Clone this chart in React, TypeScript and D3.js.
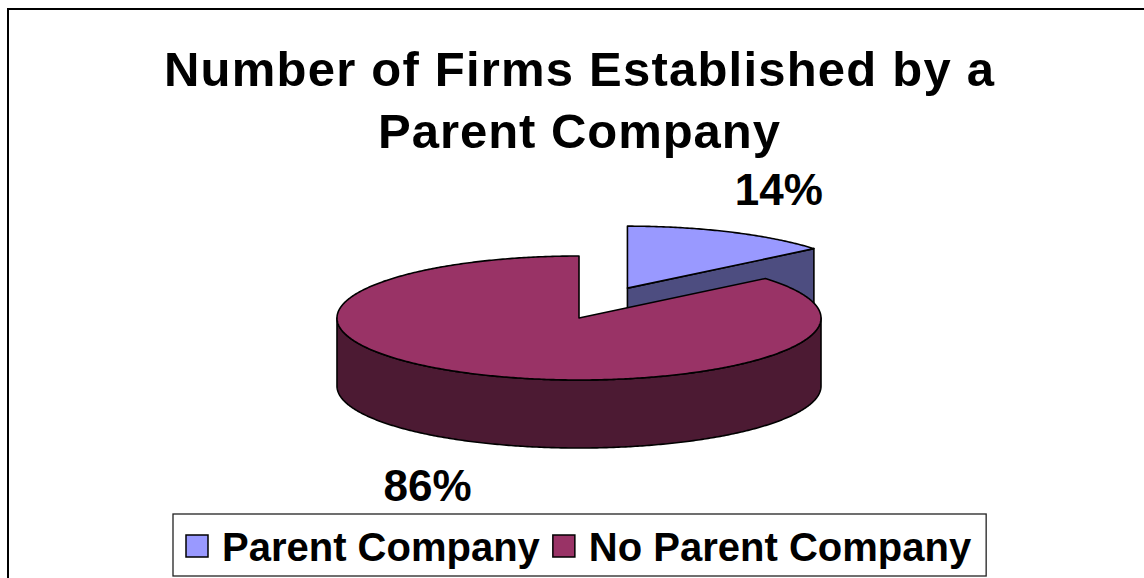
import React, { useEffect, useRef } from 'react';
import * as d3 from 'd3';

const categories = ['Parent Company', 'No Parent Company'];
const shares = [14, 86];
const pctLabels = ['14%', '86%'];
const titleLines = ['Number of Firms Established by a', 'Parent Company'];

const topColors = ['#9999FF', '#993366'];
const sideColors = ['#4D4D80', '#4C1A33'];

const W = 1144;
const H = 578;

export default function App() {
    const ref = useRef<SVGSVGElement>(null);

    useEffect(() => {
        const svg = d3.select(ref.current);
        svg.selectAll('*').remove();

        const font = '"Liberation Sans", Arial, sans-serif';

        // outer chart frame (runs off the right and bottom of the picture)
        svg.append('rect')
            .attr('x', 8).attr('y', 9)
            .attr('width', W).attr('height', H)
            .attr('fill', 'white')
            .attr('stroke', 'black')
            .attr('stroke-width', 2);

        // title
        const titleWidths = [830, 402];
        svg.selectAll('text.title')
            .data(titleLines)
            .enter()
            .append('text')
            .attr('class', 'title')
            .attr('x', 579)
            .attr('y', (d, i) => 86 + i * 62)
            .attr('text-anchor', 'middle')
            .attr('font-family', font)
            .attr('font-weight', 'bold')
            .attr('font-size', 49)
            .attr('textLength', (d, i) => titleWidths[i])
            .attr('lengthAdjust', 'spacing')
            .text(d => d);

        // 3D pie geometry
        const cx = 579, cy = 318;
        const rx = 242, ry = 62, depth = 68;
        const explode = 0.47, explodeTilt = 0.29;

        const pie = d3.pie<number>().sort(null).value(d => d);
        const arcs = pie(shares);

        const pt = (ox: number, oy: number, a: number, z = 0): [number, number] =>
            [ox + rx * Math.sin(a), oy - ry * Math.cos(a) + z];

        const sample = (a0: number, a1: number) => {
            const n = Math.max(2, Math.ceil(Math.abs(a1 - a0) / 0.01));
            return d3.range(n + 1).map(i => a0 + (a1 - a0) * i / n);
        };

        const line = d3.line();

        const slices = arcs.map((d, i) => {
            const mid = (d.startAngle + d.endAngle) / 2;
            const ex = i === 0 ? explode : 0;
            const ox = cx + ex * rx * Math.sin(mid);
            const oy = cy - ex * rx * Math.cos(mid) * explodeTilt;
            return { d, i, mid, ox, oy };
        });

        // draw back to front
        const order = [...slices].sort((a, b) => a.oy - b.oy);
        const g = svg.append('g')
            .attr('stroke', 'black')
            .attr('stroke-width', 1.6)
            .attr('stroke-linejoin', 'round');

        order.forEach(s => {
            const { d, i, ox, oy } = s;
            const a0 = d.startAngle, a1 = d.endAngle;

            // radial cut faces facing the viewer
            const faces: number[] = [];
            if (Math.sin(a1) > 1e-6) faces.push(a1);
            if (Math.sin(a0) < -1e-6) faces.push(a0);
            faces.forEach(a => {
                const p = pt(ox, oy, a);
                g.append('path')
                    .attr('fill', sideColors[i])
                    .attr('d', line([[ox, oy], p, [p[0], p[1] + depth], [ox, oy + depth]]) + 'Z');
            });

            // outer wall on the front half
            const w0 = Math.max(a0, Math.PI / 2), w1 = Math.min(a1, Math.PI * 3 / 2);
            if (w1 > w0) {
                const top = sample(w0, w1).map(a => pt(ox, oy, a));
                const bottom = sample(w0, w1).reverse().map(a => pt(ox, oy, a, depth));
                g.append('path')
                    .attr('fill', sideColors[i])
                    .attr('d', line([...top, ...bottom]) + 'Z');
            }

            // top face
            const rim = sample(a0, a1).map(a => pt(ox, oy, a));
            g.append('path')
                .attr('fill', topColors[i])
                .attr('d', line([[ox, oy], ...rim]) + 'Z');
        });

        // percentage labels
        const lf = 1.47, lg = 1.2;
        svg.selectAll('text.pct')
            .data(slices)
            .enter()
            .append('text')
            .attr('class', 'pct')
            .attr('x', s => s.ox + lf * rx * Math.sin(s.mid))
            .attr('y', s => s.oy - lf * ry * Math.cos(s.mid) * lg + (Math.cos(s.mid) < 0 ? depth : 0))
            .attr('dy', '0.36em')
            .attr('text-anchor', 'middle')
            .attr('font-family', font)
            .attr('font-weight', 'bold')
            .attr('font-size', 44)
            .text(s => pctLabels[s.i]);

        // legend
        const legend = svg.append('g');
        const box = legend.append('rect')
            .attr('x', 173).attr('y', 514)
            .attr('height', 62)
            .attr('fill', 'white')
            .attr('stroke', '#222')
            .attr('stroke-width', 1.3);

        let x = 186;
        categories.forEach((c, i) => {
            legend.append('rect')
                .attr('x', x).attr('y', 535)
                .attr('width', 22).attr('height', 22)
                .attr('fill', topColors[i])
                .attr('stroke', 'black')
                .attr('stroke-width', 1.5);
            const t = legend.append('text')
                .attr('x', x + 36)
                .attr('y', 561)
                .attr('font-family', font)
                .attr('font-weight', 'bold')
                .attr('font-size', 40)
                .text(c);
            const tw = (t.node() as SVGTextElement).getComputedTextLength();
            x = x + 36 + tw + 13;
        });
        box.attr('width', x - 173 + 2);
    }, []);

    return (
        <div style={{ position: 'absolute', left: 0, top: 0 }}>
            <svg ref={ref} width={W} height={H} style={{ display: 'block' }} />
        </div>
    );
}
